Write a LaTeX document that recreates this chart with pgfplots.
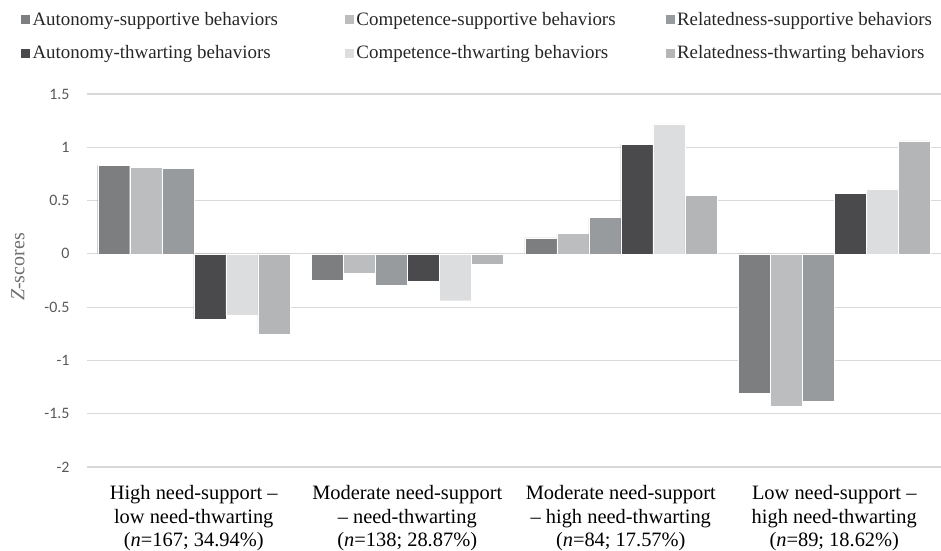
\documentclass[border=0pt]{standalone}
\usepackage{fontspec}
\setmainfont{Liberation Serif}
\newfontfamily\carlito{Carlito}
\usepackage{pgfplots}
\pgfplotsset{compat=1.18}
\definecolor{cAs}{RGB}{125,126,128}
\definecolor{cCs}{RGB}{188,189,191}
\definecolor{cRs}{RGB}{152,155,157}
\definecolor{cAt}{RGB}{74,74,76}
\definecolor{cCt}{RGB}{220,221,223}
\definecolor{cRt}{RGB}{180,181,183}
\definecolor{gridgray}{RGB}{217,217,217}
\definecolor{tickgray}{RGB}{89,89,89}
\definecolor{labgray}{RGB}{110,110,110}
\begin{document}
\begin{tikzpicture}
\useasboundingbox (-87bp,-84bp) rectangle (854bp,467bp);
\begin{axis}[
  scale only axis, width=854bp, height=373bp,
  xmin=-0.5, xmax=3.5, ymin=-2, ymax=1.5,
  ybar=0pt, bar width=32bp,
  axis line style={draw=none},
  major tick style={draw=none},
  ymajorgrids, grid style={gridgray, line width=1.2bp},
  ytick={-2,-1.5,-1,-0.5,0,0.5,1,1.5},
  yticklabels={-2,-1.5,-1,-0.5,0,0.5,1,1.5},
  yticklabel style={font=\carlito\fontsize{16}{19}\selectfont, text=tickgray, xshift=-14bp},
  xtick={0,1,2,3},
  xticklabels={{High need-support --\\low need-thwarting\\(\textit{n}=167; 34.94\%)},
               {Moderate need-support\\-- need-thwarting\\(\textit{n}=138; 28.87\%)},
               {Moderate need-support\\-- high need-thwarting\\(\textit{n}=84; 17.57\%)},
               {Low need-support --\\high need-thwarting\\(\textit{n}=89; 18.62\%)}},
  xticklabel style={align=center, font=\fontsize{20.5}{23.5}\selectfont, yshift=-11bp},
  ylabel={\textit{Z}-scores},
  ylabel style={font=\fontsize{20}{24}\selectfont, text=labgray, at={(axis description cs:-0.0808,0.536)}, anchor=center},
  legend columns=3,
  legend cell align=left,
  legend image code/.code={\fill[#1] (0bp,-5bp) rectangle (10bp,5bp);},
  legend style={at={(axis description cs:0,1)}, anchor=north west, xshift=-70bp, yshift=86bp,
    draw=none, fill=none, font=\fontsize{19}{24}\selectfont, text=black!85, row sep=15bp,
    /tikz/column 2/.style={column sep=64bp},
    /tikz/column 4/.style={column sep=47bp}},
]
\addplot[fill=cAs, draw=white, line width=0.4bp] coordinates {(0,0.83) (1,-0.25) (2,0.15) (3,-1.31)};
\addplot[fill=cCs, draw=white, line width=0.4bp] coordinates {(0,0.815) (1,-0.18) (2,0.19) (3,-1.43)};
\addplot[fill=cRs, draw=white, line width=0.4bp] coordinates {(0,0.805) (1,-0.29) (2,0.34) (3,-1.38)};
\addplot[fill=cAt, draw=white, line width=0.4bp] coordinates {(0,-0.61) (1,-0.26) (2,1.03) (3,0.57)};
\addplot[fill=cCt, draw=white, line width=0.4bp] coordinates {(0,-0.58) (1,-0.44) (2,1.22) (3,0.61)};
\addplot[fill=cRt, draw=white, line width=0.4bp] coordinates {(0,-0.75) (1,-0.10) (2,0.55) (3,1.06)};
\legend{Autonomy-supportive behaviors, Competence-supportive behaviors, Relatedness-supportive behaviors,
        Autonomy-thwarting behaviors, Competence-thwarting behaviors, Relatedness-thwarting behaviors}
\end{axis}
\end{tikzpicture}
\end{document}
